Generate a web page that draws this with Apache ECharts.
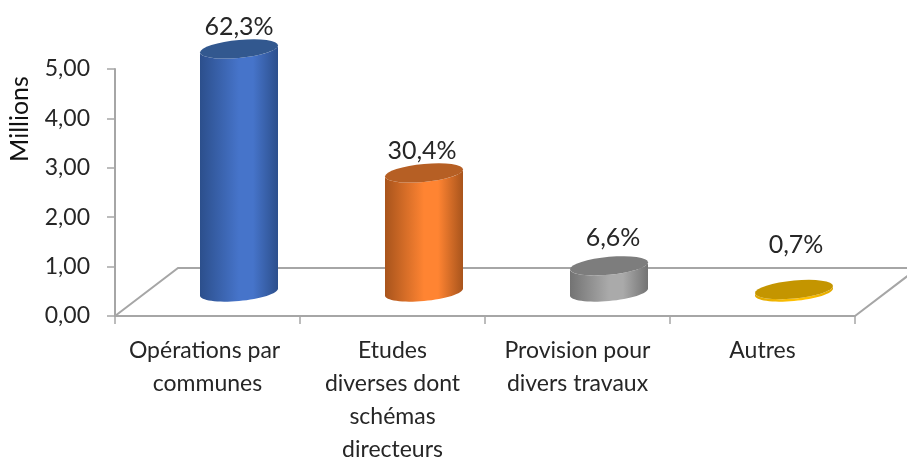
<!DOCTYPE html>
<html>
<head>
<meta charset="utf-8">
<style>html,body{margin:0;padding:0;background:#fff}#chart{width:907px;height:457px}</style>
<script src="https://cdn.jsdelivr.net/npm/echarts@6/dist/echarts.min.js"></script>
</head>
<body>
<div id="chart"></div>
<script>
const categories = ['Opérations par \ncommunes', 'Etudes\ndiverses dont\nschémas\ndirecteurs', 'Provision pour\ndivers travaux', 'Autres']
const values = [4.92, 2.41, 0.53, 0.05]
const shares = ['62,3%', '30,4%', '6,6%', '0,7%']

// couleurs : bord, centre, dessus
const palette = [
  ['#2c4f8c', '#4674ca', '#32588f'],
  ['#a8541c', '#ff8432', '#b65f24'],
  ['#737373', '#aaaaaa', '#7d7d7d'],
  ['#e0a800', '#ffc000', '#c49500'],
]
const font = 'Lato, sans-serif'
const textColor = '#262626'
const lineColor = '#a6a6a6'
const depthX = 63
const depthY = 48
const radiusX = 39
const radiusY = 9
const tilt = 0.09
const labelLift = [22, 22, 28, 45]
const labelNudge = [0, -2, 4, 2]

function rim(cx, cy, from, to) {
  const pts = []
  for (let i = 0; i <= 32; i++) {
    const t = from + (to - from) * i / 32
    pts.push([cx + radiusX * Math.cos(t), cy + radiusY * Math.sin(t) - tilt * radiusX * Math.cos(t)])
  }
  return pts
}

function renderFloor(params) {
  const { x, y, width, height } = params.coordSys
  const bottom = y + height
  const right = x + width
  const style = { stroke: lineColor, lineWidth: 2, fill: 'none' }
  return {
    type: 'polyline',
    shape: { points: [[x, bottom], [x + depthX, bottom - depthY], [right + depthX, bottom - depthY], [right, bottom]] },
    style,
  }
}

function renderCylinder(params, api) {
  const i = params.dataIndex
  const base = api.coord([api.value(0), 0])
  const top = api.coord([api.value(0), api.value(1)])
  const cx = base[0] + depthX / 2
  const by = base[1] - depthY / 2
  const ty = top[1] - depthY / 2
  const [edge, centre, cap] = palette[i]
  const body = rim(cx, by, 0, Math.PI).concat(rim(cx, ty, Math.PI, 0))
  return {
    type: 'group',
    children: [
      {
        type: 'polygon',
        shape: { points: body },
        style: {
          fill: new echarts.graphic.LinearGradient(0, 0, 1, 0, [
            { offset: 0, color: edge },
            { offset: 0.5, color: centre },
            { offset: 0.68, color: centre },
            { offset: 1, color: edge },
          ]),
        },
      },
      {
        type: 'polygon',
        shape: { points: rim(cx, ty, 0, Math.PI * 2) },
        style: { fill: cap },
      },
      {
        type: 'text',
        style: {
          text: shares[i],
          x: cx + labelNudge[i],
          y: ty - labelLift[i],
          align: 'center',
          verticalAlign: 'middle',
          font: `25px ${font}`,
          fill: textColor,
        },
      },
    ],
  }
}

const chart = echarts.init(document.getElementById('chart'))
chart.setOption({
  animation: false,
  backgroundColor: '#fff',
  grid: { left: 115, right: 52, top: 69, bottom: 141, outerBoundsMode: 'none' },
  graphic: [{
    type: 'text',
    x: 20,
    y: 119,
    rotation: Math.PI / 2,
    style: { text: 'Millions', align: 'center', verticalAlign: 'middle', font: `25px ${font}`, fill: '#111' },
  }],
  xAxis: {
    type: 'category',
    data: categories,
    axisLine: { lineStyle: { color: lineColor, width: 2 } },
    axisTick: { show: true, length: 8, lineStyle: { color: lineColor, width: 1.5 } },
    axisLabel: { color: textColor, fontFamily: 'Lato, sans-serif', fontSize: 23, lineHeight: 33, margin: 18, interval: 0 },
  },
  yAxis: {
    type: 'value',
    min: 0,
    max: 5,
    interval: 1,
    splitLine: { show: false },
    axisLine: { show: true, lineStyle: { color: lineColor, width: 2 } },
    axisTick: { show: true, length: 8, lineStyle: { color: lineColor, width: 1.5 } },
    axisLabel: { color: textColor, fontFamily: 'Lato, sans-serif', fontSize: 23, margin: 25, formatter: v => v.toFixed(2).replace('.', ',') },
  },
  series: [
    { type: 'custom', renderItem: renderFloor, data: [[0, 0]], clip: false, silent: true, z: 1 },
    { type: 'custom', renderItem: renderCylinder, data: values.map((v, i) => [i, v]), encode: { x: 0, y: 1 }, clip: false, z: 2 },
  ],
})
</script>
</body>
</html>
